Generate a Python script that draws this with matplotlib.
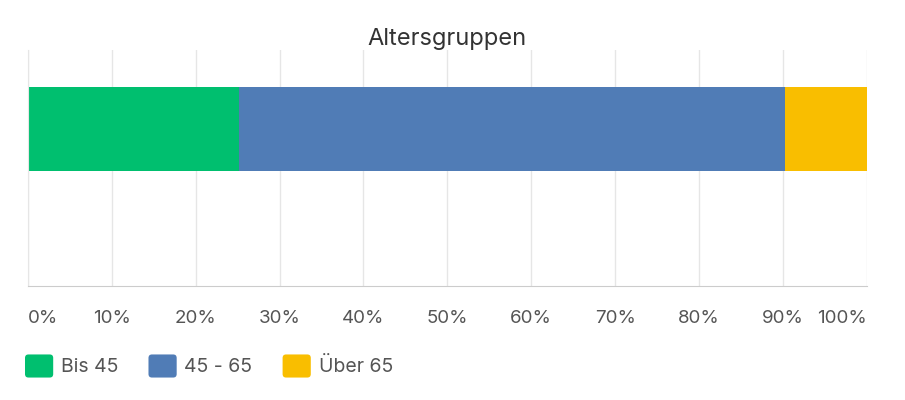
import matplotlib
matplotlib.use("Agg")
import matplotlib.pyplot as plt
from matplotlib.patches import FancyBboxPatch, Patch
from matplotlib.legend_handler import HandlerPatch

# ---- data ----
categories = ["Bis 45", "45 - 65", "Über 65"]
values = [25.2, 65.1, 9.7]
colors = ["#00BF6F", "#507CB6", "#F9BE00"]
xticks = [0, 10, 20, 30, 40, 50, 60, 70, 80, 90, 100]
xtick_labels = [f"{t}%" for t in xticks]
title = "Altersgruppen"

plt.rcParams["font.family"] = ["Inter", "DejaVu Sans"]

fig = plt.figure(figsize=(9.05, 4.0), dpi=100)
ax = fig.add_axes([28 / 905, 114 / 400, 838.7 / 905, 236 / 400])

left = 0
for cat, v, c in zip(categories, values, colors):
    ax.barh(0, v, left=left, height=0.8, color=c, label=cat, linewidth=0)
    left += v

ax.set_xlim(0, 100)
ax.set_ylim(-1.495, 0.752)
ax.set_yticks([])
ax.set_xticks(xticks)
ax.set_xticklabels(xtick_labels, fontsize=13.5, color="#555555")
labs = ax.get_xticklabels()
labs[0].set_ha("left")
labs[-1].set_ha("right")
ax.tick_params(axis="x", length=0, pad=17)
ax.grid(axis="x", color="#e6e6e6", linewidth=1)
ax.set_axisbelow(True)
for s in ["top", "right"]:
    ax.spines[s].set_visible(False)
ax.spines["left"].set_color("#e6e6e6")
ax.spines["bottom"].set_color("#cccccc")

ax.set_title(title, fontsize=17, color="#333333", pad=0)


class RoundHandler(HandlerPatch):
    def create_artists(self, legend, orig_handle, xdescent, ydescent, width, height, fontsize, trans):
        p = FancyBboxPatch((-xdescent, -ydescent), width, height,
                           boxstyle="round,pad=0,rounding_size=%f" % (height * 0.15),
                           facecolor=orig_handle.get_facecolor(), edgecolor="none",
                           transform=trans)
        return [p]


handles = [Patch(facecolor=c, label=cat) for cat, c in zip(categories, colors)]
fig.legend(handles=handles, labels=categories, loc="center left",
           bbox_to_anchor=(25 / 905, 34 / 400), ncol=3, frameon=False,
           fontsize=14, handlelength=1.45, handleheight=1.45, handletextpad=0.4,
           columnspacing=1.55, borderpad=0, borderaxespad=0,
           labelcolor="#555555",
           handler_map={Patch: RoundHandler()})

fig.savefig("out.png", dpi=100)
